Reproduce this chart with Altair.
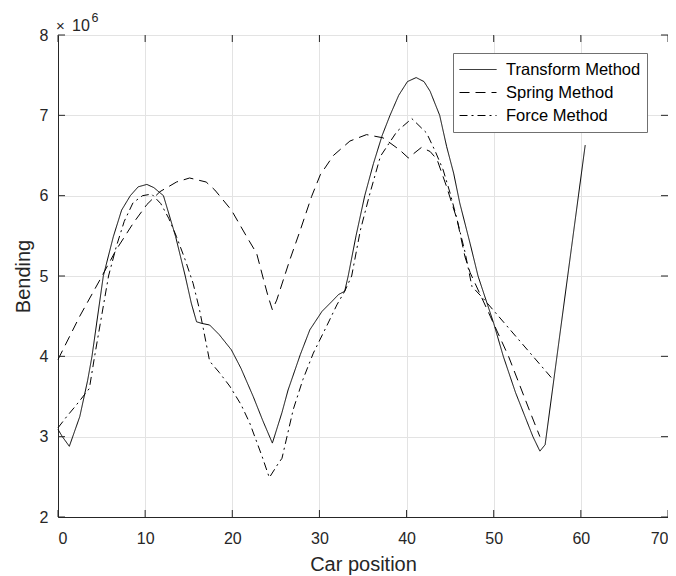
import altair as alt
import pandas as pd

# ---- data (bending in units of 1e6) ----
tm_x = [0, 0.5, 1.3, 2.5, 3.4, 3.9, 5.2, 6.35, 7.3, 8.3, 9.2, 10.2, 11.0, 12.1, 13.5, 14.6, 15.3, 15.9,
        16.5, 17.4, 18.5, 19.9, 21.0, 22.4, 23.5, 24.6, 25.7, 26.4, 27.8, 28.9, 30.3, 31.4, 32.2, 32.9,
        33.3, 34.2, 35.2, 36.2, 37.2, 38.1, 39.1, 40.1, 41.1, 42.0, 42.7, 43.8, 44.6, 45.4, 46.1, 47.3,
        48.2, 50.0, 51.1, 52.5, 54.5, 55.3, 55.9, 60.5]
tm_y = [3.09, 3.0, 2.88, 3.25, 3.7, 4.0, 5.0, 5.49, 5.82, 6.0, 6.11, 6.14, 6.1, 6.0, 5.49, 5.0, 4.66, 4.43,
        4.41, 4.39, 4.27, 4.08, 3.85, 3.5, 3.2, 2.92, 3.3, 3.58, 4.02, 4.33, 4.56, 4.68, 4.77, 4.81,
        5.0, 5.5, 6.0, 6.4, 6.75, 7.0, 7.25, 7.42, 7.47, 7.42, 7.3, 7.0, 6.61, 6.28, 5.91, 5.4,
        5.0, 4.41, 4.0, 3.55, 3.0, 2.82, 2.9, 6.63]

sm_x = [0, 2.5, 4.8, 6.7, 8.65, 10.2, 11.7, 13.6, 15.1, 17.0, 18.0, 19.9, 21.65, 22.8, 23.6, 24.1, 24.6,
        25.1, 26.6, 27.8, 29.1, 30.1, 31.6, 33.5, 35.4, 37.3, 39.2, 40.2, 41.7, 42.7, 43.5, 44.6, 45.8,
        46.7, 47.3, 49.6, 51.7, 54.2, 55.3]
sm_y = [3.96, 4.5, 4.95, 5.33, 5.66, 5.89, 6.05, 6.17, 6.22, 6.17, 6.07, 5.82, 5.49, 5.28, 4.95, 4.75, 4.58,
        4.7, 5.2, 5.57, 5.99, 6.26, 6.5, 6.68, 6.76, 6.72, 6.57, 6.47, 6.6, 6.55, 6.45, 6.11, 5.7,
        5.24, 5.04, 4.5, 4.0, 3.3, 3.0]

fm_x = [0, 1.0, 2.0, 3.6, 4.2, 5.0, 5.8, 6.7, 7.6, 8.6, 9.7, 10.75, 11.8, 12.7, 13.6, 14.6, 15.5, 16.2,
        16.7, 17.4, 18.5, 19.7, 21.0, 22.0, 23.4, 24.25, 25.3, 25.7, 27.0, 28.1, 29.3, 30.8, 32.0, 32.9,
        33.7, 34.7, 35.8, 37.0, 38.9, 40.6, 42.3, 43.3, 44.2, 45.0, 45.8, 46.7, 47.5, 48.8, 56.65]
fm_y = [3.11, 3.25, 3.38, 3.6, 4.0, 4.5, 5.0, 5.37, 5.68, 5.91, 6.0, 6.02, 5.9, 5.72, 5.49, 5.2, 4.91, 4.6,
        4.33, 3.94, 3.8, 3.63, 3.4, 3.17, 2.76, 2.49, 2.67, 2.73, 3.34, 3.71, 4.04, 4.37, 4.64, 4.81,
        5.0, 5.57, 6.03, 6.49, 6.8, 6.96, 6.78, 6.55, 6.32, 6.03, 5.7, 5.3, 4.87, 4.72, 3.73]

methods = ["Transform Method", "Spring Method", "Force Method"]
x_ticks = [0, 10, 20, 30, 40, 50, 60, 70]
y_ticks = [2, 3, 4, 5, 6, 7, 8]

rows = []
for name, xs, ys in [(methods[0], tm_x, tm_y), (methods[1], sm_x, sm_y), (methods[2], fm_x, fm_y)]:
    for i, (a, b) in enumerate(zip(xs, ys)):
        rows.append({"method": name, "pos": a, "bend": b, "order": i})
df = pd.DataFrame(rows)

W, H = 610, 482
FONT = "Liberation Sans"
AX = "#262626"

x_scale = alt.Scale(domain=[0, 70], nice=False, zero=False)
y_scale = alt.Scale(domain=[2, 8], nice=False, zero=False)
x_axis = alt.Axis(values=x_ticks, grid=True, ticks=False, labelFontSize=16, labelColor=AX,
                  titleFontSize=20, titleColor=AX, titleFontWeight="normal", labelPadding=13,
                  titlePadding=8, domainColor=AX, gridColor="#e3e3e3", labelFont=FONT, titleFont=FONT)
y_axis = alt.Axis(values=y_ticks, grid=True, ticks=False, labelFontSize=16, labelColor=AX,
                  titleFontSize=20, titleColor=AX, titleFontWeight="normal", labelPadding=10,
                  titlePadding=6, domainColor=AX, gridColor="#e3e3e3", labelFont=FONT, titleFont=FONT)

lines = alt.Chart(df).mark_line(strokeWidth=1, color="black").encode(
    x=alt.X("pos:Q", title="Car position", scale=x_scale, axis=x_axis),
    y=alt.Y("bend:Q", title="Bending", scale=y_scale, axis=y_axis),
    strokeDash=alt.StrokeDash("method:N",
                              scale=alt.Scale(domain=methods, range=[[1, 0], [10, 6], [8, 4, 2, 4]]),
                              legend=alt.Legend(title=None, orient="none", legendX=395, legendY=18,
                                                symbolType="stroke", symbolSize=1369,
                                                symbolStrokeColor="black", symbolStrokeWidth=1,
                                                labelFontSize=16.5, labelFont=FONT, labelColor="black",
                                                labelOffset=9, strokeColor="#707070", fillColor="white",
                                                padding=6, rowPadding=2, clipHeight=21)),
    order="order:Q",
)

xt = pd.DataFrame({"pos": x_ticks})
yt = pd.DataFrame({"bend": y_ticks})
xt_enc = alt.X("pos:Q", title="Car position", scale=x_scale, axis=x_axis)
yt_enc = alt.Y("bend:Q", title="Bending", scale=y_scale, axis=y_axis)

tick_b = alt.Chart(xt).mark_rule(color=AX, strokeWidth=1).encode(x=xt_enc, y=alt.value(H), y2=alt.value(H - 7))
tick_t = alt.Chart(xt).mark_rule(color=AX, strokeWidth=1).encode(x=xt_enc, y=alt.value(0), y2=alt.value(7))
tick_l = alt.Chart(yt).mark_rule(color=AX, strokeWidth=1).encode(y=yt_enc, x=alt.value(0), x2=alt.value(7))
tick_r = alt.Chart(yt).mark_rule(color=AX, strokeWidth=1).encode(y=yt_enc, x=alt.value(W), x2=alt.value(W - 7))

one = alt.Data(values=[{"a": 1}])
exp_times = alt.Chart(one).mark_text(text="×", align="left", baseline="alphabetic", fontSize=15,
                                     font=FONT, color=AX).encode(x=alt.value(-2), y=alt.value(-4))
exp_base = alt.Chart(one).mark_text(text="10", align="left", baseline="alphabetic", fontSize=16,
                                    font=FONT, color=AX).encode(x=alt.value(14), y=alt.value(-4))
exp_sup = alt.Chart(one).mark_text(text="6", align="left", baseline="alphabetic", fontSize=12.5,
                                   font=FONT, color=AX).encode(x=alt.value(33.5), y=alt.value(-13))

chart = alt.layer(lines, tick_b, tick_t, tick_l, tick_r, exp_times, exp_base, exp_sup).properties(
    width=W, height=H,
    autosize=alt.AutoSizeParams(type="none"),
    padding={"left": 50, "top": 27, "right": 0, "bottom": 58},
).configure_view(stroke=AX, strokeWidth=1).configure(background="white")

chart.save("out.html", embed_options={"renderer": "svg", "actions": False})
